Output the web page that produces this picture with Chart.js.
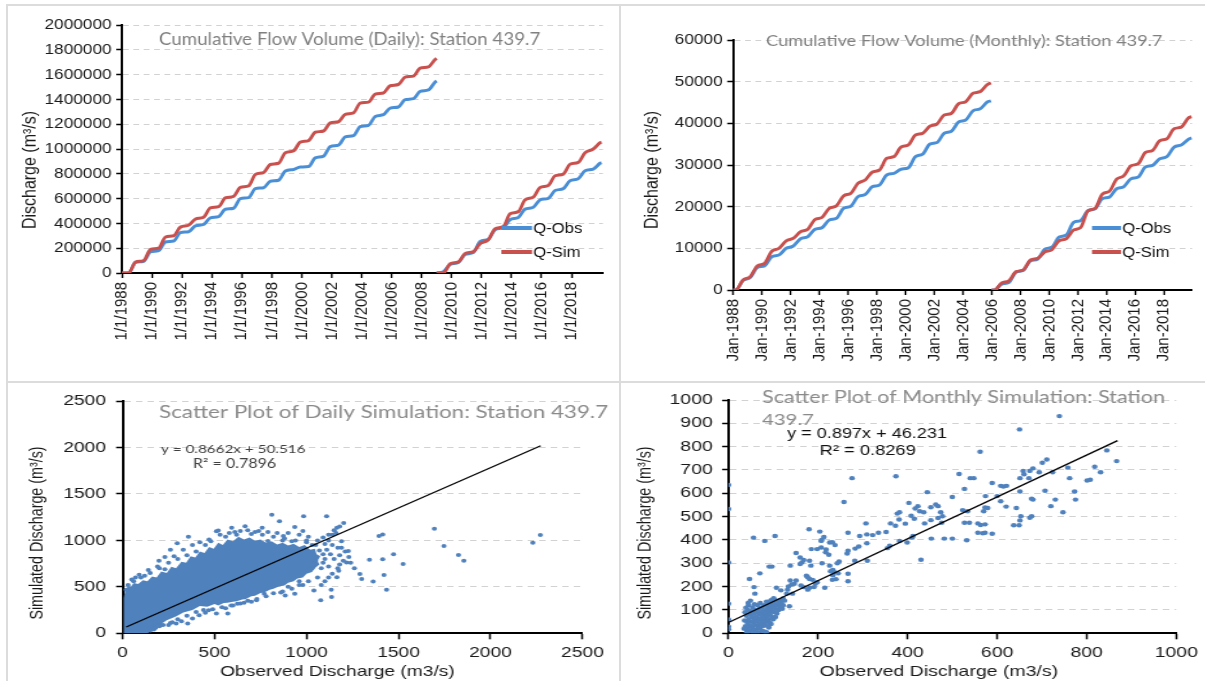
<!DOCTYPE html>
<html>
<head>
<meta charset="utf-8">
<script src="https://cdn.jsdelivr.net/npm/chart.js@4.4.1/dist/chart.umd.min.js"></script>
<style>
  html, body { margin: 0; padding: 0; background: #fff; }
  body { width: 1205px; height: 681px; position: relative; overflow: hidden; }
  .panel { position: absolute; transform-origin: 0 0; }
  .rule { position: absolute; background: #dcdcdc; }
</style>
</head>
<body>
<div class="rule" style="left:6px;top:4px;width:1199px;height:2px"></div>
<div class="rule" style="left:6px;top:4px;width:2px;height:677px"></div>
<div class="rule" style="left:619px;top:4px;width:2px;height:677px"></div>
<div class="rule" style="left:6px;top:381px;width:1199px;height:2px"></div>

<div class="panel" style="left:8px;top:6px;transform:scaleX(1.15)"><canvas id="dailyCum" width="532" height="375"></canvas></div>
<div class="panel" style="left:622px;top:6px;transform:scaleX(1.15)"><canvas id="monthlyCum" width="507" height="375"></canvas></div>
<div class="panel" style="left:8px;top:384px;transform:scaleX(1.28)"><canvas id="dailyScatter" width="478" height="297"></canvas></div>
<div class="panel" style="left:622px;top:384px;transform:scaleX(1.3)"><canvas id="monthlyScatter" width="448" height="297"></canvas></div>

<script>
// tick labels
var tickYears = [1988, 1990, 1992, 1994, 1996, 1998, 2000, 2002, 2004, 2006, 2008, 2010, 2012, 2014, 2016, 2018];

// cumulative daily volume, first record 1988-2008
var dailyYearsA = [1988.0, 1988.45, 1988.9, 1989.45, 1989.9, 1990.45, 1990.9, 1991.45, 1991.9, 1992.45, 1992.9,
  1993.45, 1993.9, 1994.45, 1994.9, 1995.45, 1995.9, 1996.45, 1996.9, 1997.45, 1997.9, 1998.45, 1998.9,
  1999.45, 1999.9, 2000.45, 2000.9, 2001.45, 2001.9, 2002.45, 2002.9, 2003.45, 2003.9, 2004.45, 2004.9,
  2005.45, 2005.9, 2006.45, 2006.9, 2007.45, 2007.9, 2008.45, 2008.9, 2009.0];
var dailyObsA = [0, 0, 85000, 95000, 170000, 180000, 250000, 258000, 325000, 333000, 380000,
  392000, 445000, 455000, 514000, 522000, 600000, 608000, 680000, 688000, 740000, 748000, 822000,
  835000, 855000, 858000, 928000, 942000, 1020000, 1031000, 1098000, 1108000, 1180000, 1191000, 1262000,
  1277000, 1330000, 1339000, 1398000, 1406000, 1464000, 1476000, 1540000, 1548000];
var dailySimA = [0, 0, 88000, 100000, 190000, 200000, 290000, 300000, 370000, 385000, 435000,
  450000, 525000, 535000, 605000, 618000, 690000, 702000, 795000, 810000, 875000, 885000, 970000,
  985000, 1055000, 1068000, 1135000, 1145000, 1210000, 1220000, 1280000, 1292000, 1370000, 1378000, 1443000,
  1452000, 1510000, 1520000, 1580000, 1588000, 1652000, 1662000, 1722000, 1730000];

// cumulative daily volume, second record 2009-2019
var dailyYearsB = [2009.0, 2009.45, 2009.9, 2010.45, 2010.9, 2011.45, 2011.9, 2012.45, 2012.9, 2013.45, 2013.9,
  2014.45, 2014.9, 2015.45, 2015.9, 2016.45, 2016.9, 2017.45, 2017.9, 2018.45, 2018.9, 2019.45, 2019.9, 2020.0];
var dailyObsB = [0, 10000, 70000, 85000, 150000, 165000, 255000, 272000, 350000, 365000, 430000,
  448000, 515000, 530000, 590000, 602000, 665000, 680000, 744000, 760000, 824000, 838000, 885000, 890000];
var dailySimB = [0, 0, 75000, 90000, 157000, 172000, 237000, 268000, 357000, 375000, 477000,
  495000, 590000, 612000, 690000, 706000, 784000, 798000, 877000, 892000, 970000, 1000000, 1050000, 1055000];

// cumulative monthly volume, 1988-2005
var monthlyYearsA = [1988.0, 1988.2, 1988.7, 1989.2, 1989.7, 1990.2, 1990.7, 1991.2, 1991.7, 1992.2, 1992.7,
  1993.2, 1993.7, 1994.2, 1994.7, 1995.2, 1995.7, 1996.2, 1996.7, 1997.2, 1997.7, 1998.2, 1998.7,
  1999.2, 1999.7, 2000.2, 2000.7, 2001.2, 2001.7, 2002.2, 2002.7, 2003.2, 2003.7, 2004.2, 2004.7,
  2005.2, 2005.7, 2005.95];
var monthlyObsA = [0, 0, 2300, 3000, 5400, 5800, 8000, 8400, 10000, 10560, 12300,
  12800, 14560, 14960, 16800, 17200, 19600, 20100, 22400, 22900, 24800, 25200, 27600,
  28000, 29000, 29300, 32000, 32600, 35000, 35400, 37600, 38100, 40300, 40800, 43000,
  43500, 45100, 45400];
var monthlySimA = [0, 0, 2400, 3200, 5800, 6400, 9300, 10000, 11800, 12400, 14000,
  14560, 16900, 17440, 19600, 20200, 22600, 23200, 25600, 26400, 28300, 28800, 31600,
  32000, 34300, 34800, 37200, 37600, 39300, 39840, 42000, 42400, 44700, 45200, 47200,
  47600, 49300, 49700];

// cumulative monthly volume, 2006-2019
var monthlyYearsB = [2006.0, 2006.2, 2006.7, 2007.2, 2007.7, 2008.2, 2008.7, 2009.2, 2009.7, 2010.2, 2010.7,
  2011.2, 2011.7, 2012.2, 2012.7, 2013.2, 2013.7, 2014.2, 2014.7, 2015.2, 2015.7, 2016.2, 2016.7,
  2017.2, 2017.7, 2018.2, 2018.7, 2019.2, 2019.7, 2019.92];
var monthlyObsB = [0, 0, 1400, 1800, 4300, 4700, 7000, 7400, 9800, 10300, 12700,
  13200, 16200, 16700, 19000, 19500, 21900, 22300, 24300, 24800, 26700, 27100, 29500,
  29900, 31500, 32000, 34300, 34800, 36200, 36500];
var monthlySimB = [0, 0, 1700, 2200, 4400, 4800, 7200, 7600, 9100, 9700, 11800,
  12300, 14400, 15000, 19000, 19600, 23000, 23700, 26600, 27400, 29800, 30300, 33000,
  33500, 35800, 36300, 38700, 39100, 41300, 41600];

// daily scatter: outline of the solid mass of overlapping points [observed, simulated]
var dailyCloud = [[8, 0], [5, 200], [8, 380], [15, 470], [30, 510], [45, 500], [60, 540], [85, 530],
  [110, 570], [135, 560], [160, 610], [185, 600], [210, 665], [240, 650], [265, 715], [290, 700],
  [320, 770], [345, 760], [370, 830], [395, 815], [420, 880], [445, 865], [470, 930], [495, 910],
  [520, 975], [545, 950], [570, 1010], [600, 990], [630, 1040], [660, 1010], [690, 1030], [720, 995],
  [750, 1010], [780, 975], [810, 990], [840, 955], [870, 975], [900, 945], [930, 965], [960, 930],
  [990, 950], [1020, 900], [1045, 910], [1055, 850], [1075, 830], [1060, 780], [1070, 740], [1045, 700],
  [1030, 660], [1000, 640], [980, 600], [950, 590], [930, 560], [900, 545], [880, 515], [850, 505],
  [820, 480], [800, 470], [770, 440], [750, 435], [720, 405], [700, 400], [670, 370], [650, 365],
  [620, 345], [600, 340], [570, 330], [550, 325], [520, 300], [500, 315], [460, 285], [420, 295],
  [380, 250], [330, 225], [290, 180], [240, 140], [210, 100], [180, 70], [160, 40], [150, 25], [138, 0]];
// daily scatter: single points around the mass
var dailyPoints = [[811, 1277], [984, 1259], [1109, 1259], [1202, 1188], [1165, 1135], [936, 1145], [853, 1206],
  [759, 1135], [666, 1152], [510, 1099], [358, 1039], [297, 968], [198, 780], [1394, 1046], [1414, 1064],
  [1695, 1124], [1747, 940], [1826, 844], [1855, 780], [2230, 975], [2271, 1057], [1473, 851], [1525, 745],
  [1342, 791], [1414, 798], [1421, 628], [1290, 638], [1362, 557], [1435, 468], [1300, 585], [1134, 468],
  [1077, 355], [1136, 390], [1175, 674], [1217, 762], [1227, 887], [1165, 603], [1040, 461], [936, 426],
  [884, 408], [770, 426], [728, 355], [624, 319], [572, 213], [510, 213], [468, 248], [416, 195], [354, 106],
  [291, 106], [250, 89], [208, 89], [166, 71], [156, 53], [520, 1106], [593, 1135], [874, 1046], [790, 993],
  [1150, 1110], [1160, 1080], [1140, 1060], [1120, 1000], [1100, 960], [1180, 840], [1200, 780], [1240, 760],
  [1260, 700], [1180, 740], [1120, 720], [1100, 800], [1090, 760], [1150, 800], [1050, 780], [1080, 700],
  [1030, 700], [960, 560], [900, 500], [980, 520], [860, 440], [820, 430], [700, 340], [660, 330], [560, 270],
  [600, 300], [450, 220], [380, 160], [320, 130], [260, 110], [220, 90], [180, 60], [150, 30], [400, 880],
  [350, 840], [300, 800], [250, 760], [200, 700], [150, 650], [100, 600], [60, 560], [450, 950], [480, 990],
  [560, 1040], [620, 1060], [700, 1070], [760, 1060], [820, 1040], [880, 1020], [940, 1000], [1000, 980],
  [1050, 950], [260, 900], [230, 820], [120, 620], [30, 520], [20, 470], [640, 1100], [720, 1090],
  [900, 1080], [980, 1100], [330, 900], [380, 950], [420, 980], [470, 1010], [530, 1060], [580, 1080],
  [610, 1090], [680, 1110], [740, 1100], [790, 1090], [840, 1080], [960, 1060], [1010, 1040], [1060, 1000],
  [1090, 1030], [1120, 1060], [1180, 1150], [1190, 920], [1210, 880], [1230, 820], [1170, 700], [1140, 640],
  [1120, 600], [1100, 560], [1080, 520], [1060, 600], [1010, 560], [960, 520], [920, 480], [870, 450],
  [780, 400], [730, 370], [680, 350], [640, 320], [590, 300], [540, 280], [490, 260], [440, 250], [400, 230],
  [350, 190], [300, 150], [270, 120], [200, 75], [170, 40], [280, 830], [190, 720], [140, 680], [90, 630],
  [50, 580], [70, 600], [230, 690], [870, 1000], [920, 990], [1000, 1000], [1030, 950], [1070, 890],
  [1090, 850], [1110, 900], [1130, 850], [1140, 950], [1170, 920], [1190, 990]];
var dailyTrend = [[20, 68], [2273, 2019]];

// monthly scatter points [observed, simulated]
var monthlyPoints = [[739, 931], [650, 874], [562, 778], [845, 784], [867, 738], [711, 745], [701, 731], [680, 707],
  [673, 696], [658, 696], [660, 682], [651, 665], [671, 665], [724, 690], [758, 710], [818, 714], [831, 690],
  [762, 665], [801, 655], [808, 658], [694, 690], [515, 683], [540, 665], [548, 665], [374, 673], [276, 665],
  [589, 644], [608, 632], [614, 629], [621, 632], [527, 619], [444, 605], [773, 608], [707, 611], [651, 608],
  [600, 588], [574, 588], [500, 584], [258, 563], [403, 559], [463, 552], [468, 545], [423, 545], [427, 523],
  [417, 535], [573, 539], [579, 537], [608, 566], [620, 543], [643, 537], [677, 577], [680, 573], [730, 573],
  [775, 573], [720, 545], [747, 519], [653, 502], [677, 502], [651, 484], [637, 463], [649, 463], [673, 495],
  [570, 523], [534, 523], [523, 528], [474, 519], [436, 519], [478, 502], [452, 540], [382, 519], [377, 513],
  [415, 491], [408, 504], [373, 461], [362, 471], [381, 488], [395, 470], [438, 471], [452, 485], [468, 494],
  [476, 474], [453, 406], [482, 406], [500, 406], [527, 474], [538, 474], [557, 471], [563, 464], [568, 429],
  [573, 431], [589, 427], [532, 399], [557, 431], [573, 467], [412, 417], [352, 434], [335, 431], [307, 471],
  [309, 424], [322, 421], [293, 417], [267, 431], [208, 400], [213, 413], [180, 446], [204, 436], [207, 396],
  [226, 389], [232, 390], [238, 378], [218, 359], [217, 347], [224, 337], [207, 368], [198, 361], [185, 361],
  [209, 300], [265, 342], [267, 354], [283, 363], [291, 372], [309, 386], [310, 311], [282, 311], [247, 308],
  [243, 300], [226, 290], [233, 272], [228, 266], [237, 262], [232, 229], [240, 232], [233, 249], [245, 257],
  [267, 223], [215, 195], [267, 255], [151, 344], [160, 325], [164, 304], [168, 314], [181, 311], [184, 290],
  [160, 297], [174, 247], [177, 240], [181, 233], [188, 229], [198, 219], [194, 212], [191, 198], [181, 195],
  [177, 187], [168, 198], [162, 205], [151, 226], [147, 212], [138, 226], [141, 209], [134, 201], [132, 187],
  [122, 149], [117, 137], [136, 116], [143, 170], [138, 290], [130, 170], [114, 141], [91, 286], [97, 286],
  [97, 144], [107, 195], [117, 184], [56, 410], [81, 396], [104, 417], [70, 257], [47, 233], [57, 198],
  [59, 170], [0, 636], [0, 533], [0, 304], [0, 127], [0, 59], [0, 28], [0, 17], [430, 315], [355, 365],
  [360, 375], [382, 396], [399, 389], [410, 410],
  [35, 20], [38, 30], [40, 15], [42, 45], [44, 25], [45, 60], [46, 35], [48, 80], [48, 12], [50, 50], [50, 95],
  [52, 30], [53, 70], [54, 110], [55, 20], [56, 45], [57, 85], [58, 60], [58, 125], [60, 35], [60, 100],
  [61, 15], [62, 70], [63, 50], [64, 90], [65, 120], [66, 30], [67, 60], [68, 80], [69, 105], [70, 40],
  [70, 20], [71, 130], [72, 65], [73, 90], [74, 50], [75, 110], [76, 30], [77, 75], [78, 95], [79, 55],
  [80, 120], [81, 40], [82, 85], [83, 65], [84, 100], [85, 135], [86, 50], [87, 75], [88, 110], [89, 90],
  [90, 60], [91, 125], [92, 100], [93, 80], [94, 140], [95, 115], [96, 95], [97, 70], [98, 130], [100, 110],
  [101, 150], [102, 90], [104, 125], [105, 105], [107, 140], [108, 85], [110, 120], [112, 100], [113, 135],
  [115, 115], [118, 130], [120, 105], [122, 120], [125, 140], [40, 75], [43, 100], [45, 120], [47, 10],
  [49, 140], [36, 55], [37, 90], [39, 110], [41, 5], [44, 130], [80, 8], [85, 5], [75, 10], [65, 5], [55, 5],
  [90, 25], [95, 40], [100, 60], [105, 70], [88, 30], [93, 45]];
var monthlyTrend = [[0, 46], [869, 826]];

var ARIAL = '"Liberation Sans", Arial, sans-serif';
var CALIBRI = 'Lato, "Open Sans", sans-serif';
var OBS_COLOR = '#4a8fd6';
var SIM_COLOR = '#c8504d';
var DOT_COLOR = '#4f81bd';

Chart.defaults.font.family = ARIAL;
Chart.defaults.color = '#1a1a1a';
Chart.defaults.animation = false;

// text, titles and legend keys drawn at fixed spots on each panel
var panelText = {
  id: 'panelText',
  afterDatasetsDraw: function(chart, args, opts) {
    var ctx = chart.ctx;
    ctx.save();
    (opts.keys || []).forEach(function(k) {
      var ds = chart.data.datasets[k.dataset];
      ctx.strokeStyle = ds.borderColor;
      ctx.lineWidth = 4;
      ctx.beginPath();
      ctx.moveTo(k.x1, k.y);
      ctx.lineTo(k.x2, k.y);
      ctx.stroke();
      ctx.fillStyle = '#111';
      ctx.font = '14.5px ' + ARIAL;
      ctx.textAlign = 'left';
      ctx.textBaseline = 'middle';
      ctx.fillText(ds.label, k.x2 + 1, k.y + 1);
    });
    (opts.items || []).forEach(function(t) {
      var size = t.size;
      ctx.font = size + 'px ' + t.family;
      if (t.fit) {
        size = size * t.fit / ctx.measureText(t.text).width;
        ctx.font = size.toFixed(2) + 'px ' + t.family;
      }
      ctx.save();
      ctx.translate(t.x, t.y);
      if (t.rotate) ctx.rotate(t.rotate * Math.PI / 180);
      ctx.fillStyle = t.color;
      ctx.textAlign = t.align || 'left';
      ctx.textBaseline = 'middle';
      ctx.fillText(t.text, 0, 0);
      ctx.restore();
    });
    ctx.restore();
  }
};

function toPoints(xs, ys) {
  return xs.map(function(x, i) { return { x: x, y: ys[i] }; });
}
function pairs(list) {
  return list.map(function(p) { return { x: p[0], y: p[1] }; });
}

function valueAxis(max, step, width, size, tickPad, tickLen) {
  return {
    min: 0, max: max,
    afterFit: function(s) { s.width = width; },
    ticks: { stepSize: step, font: { size: size }, padding: tickPad, color: '#1a1a1a',
      callback: function(v) { return String(v); } },
    grid: {
      color: function(c) { return c.tick && c.tick.value === 0 ? 'rgba(0,0,0,0)' : '#d2d2d2'; },
      lineWidth: 1, tickColor: '#000', tickLength: tickLen, tickWidth: 1.5
    },
    border: { color: '#000', width: 2, dash: [5, 4] }
  };
}

function yearAxis(max, height, prefix) {
  return {
    type: 'linear', min: 1988, max: max,
    afterFit: function(s) { s.height = height; },
    afterBuildTicks: function(s) { s.ticks = tickYears.map(function(v) { return { value: v }; }); },
    ticks: { autoSkip: false, minRotation: 90, maxRotation: 90, padding: 4, font: { size: 15 }, color: '#1a1a1a',
      callback: function(v) { return prefix + v; } },
    grid: { drawOnChartArea: false, tickColor: '#000', tickLength: 5, tickWidth: 1.5 },
    border: { color: '#000', width: 2 }
  };
}

function cumulativeChart(id, cfg) {
  var obs = toPoints(cfg.xa, cfg.obsA).concat([{ x: cfg.xb[0], y: null }], toPoints(cfg.xb, cfg.obsB));
  var sim = toPoints(cfg.xa, cfg.simA).concat([{ x: cfg.xb[0], y: null }], toPoints(cfg.xb, cfg.simB));
  var line = { borderWidth: 3, pointRadius: 0, cubicInterpolationMode: 'monotone', spanGaps: false, fill: false };
  new Chart(document.getElementById(id), {
    type: 'line',
    data: {
      datasets: [
        Object.assign({ label: 'Q-Obs', data: obs, borderColor: OBS_COLOR, order: 1 }, line),
        Object.assign({ label: 'Q-Sim', data: sim, borderColor: SIM_COLOR, order: 0 }, line)
      ]
    },
    options: {
      responsive: false,
      layout: { padding: cfg.padding },
      plugins: { legend: { display: false }, tooltip: { enabled: false }, panelText: cfg.text },
      scales: { x: cfg.x, y: cfg.y }
    },
    plugins: [panelText]
  });
}

cumulativeChart('dailyCum', {
  xa: dailyYearsA, obsA: dailyObsA, simA: dailySimA,
  xb: dailyYearsB, obsB: dailyObsB, simB: dailySimB,
  padding: { left: 0, right: 14.6, top: 19, bottom: 0 },
  x: yearAxis(2020.1, 108, '1/1/'),
  y: valueAxis(2000000, 200000, 99.1, 15, 4, 5),
  text: {
    keys: [{ dataset: 0, x1: 429, x2: 455.7, y: 222 }, { dataset: 1, x1: 429, x2: 455.7, y: 246 }],
    items: [
      { text: 'Cumulative Flow Volume (Daily): Station 439.7', x: 131.3, y: 34, size: 17, fit: 332, family: CALIBRI, color: '#808080' },
      { text: 'Discharge (m\u00b3/s)', x: 19.1, y: 164, size: 16, family: ARIAL, color: '#1a1a1a', align: 'center', rotate: -90 }
    ]
  }
});

cumulativeChart('monthlyCum', {
  xa: monthlyYearsA, obsA: monthlyObsA, simA: monthlySimA,
  xb: monthlyYearsB, obsB: monthlyObsB, simB: monthlySimB,
  padding: { left: 0, right: 11.3, top: 34, bottom: 0 },
  x: yearAxis(2019.95, 91, 'Jan-'),
  y: valueAxis(60000, 10000, 96.5, 15, 4, 5),
  text: {
    keys: [{ dataset: 0, x1: 408.7, x2: 433.9, y: 222 }, { dataset: 1, x1: 408.7, x2: 433.9, y: 246 }],
    items: [
      { text: 'Cumulative Flow Volume (Monthly): Station 439.7', x: 125.2, y: 34.7, size: 17, fit: 345, family: CALIBRI, color: '#808080' },
      { text: 'Discharge (m\u00b3/s)', x: 26.1, y: 164, size: 16, family: ARIAL, color: '#1a1a1a', align: 'center', rotate: -90 }
    ]
  }
});

function scatterChart(id, cfg) {
  var datasets = [
    { type: 'line', label: 'Linear', data: pairs(cfg.trend), borderColor: '#000', borderWidth: 1.3,
      pointRadius: 0, fill: false, order: 0 },
    { type: 'scatter', label: 'Simulated', data: pairs(cfg.points), backgroundColor: DOT_COLOR,
      borderWidth: 0, pointRadius: cfg.radius, order: 1 }
  ];
  if (cfg.cloud) {
    datasets.push({ type: 'line', label: 'cloud', data: pairs(cfg.cloud), borderWidth: 0, borderColor: DOT_COLOR,
      backgroundColor: DOT_COLOR, pointRadius: 0, fill: 'shape', tension: 0, order: 2 });
  }
  new Chart(document.getElementById(id), {
    type: 'scatter',
    data: { datasets: datasets },
    options: {
      responsive: false,
      layout: { padding: cfg.padding },
      plugins: { legend: { display: false }, tooltip: { enabled: false }, panelText: cfg.text },
      scales: {
        x: {
          type: 'linear', min: 0, max: cfg.xMax,
          afterFit: function(s) { s.height = 47.7; },
          ticks: { stepSize: cfg.xStep, font: { size: 15 }, padding: 5, color: '#1a1a1a',
            callback: function(v) { return String(v); } },
          grid: { drawOnChartArea: false, tickColor: '#000', tickLength: 6, tickWidth: 1.5 },
          border: { color: '#000', width: 2 }
        },
        y: valueAxis(cfg.yMax, cfg.yStep, cfg.yWidth, 15, cfg.yPad, 5)
      }
    },
    plugins: [panelText]
  });
}

scatterChart('dailyScatter', {
  points: dailyPoints, cloud: dailyCloud, trend: dailyTrend, radius: 2,
  xMax: 2500, xStep: 500, yMax: 2500, yStep: 500, yWidth: 89.5, yPad: 8,
  padding: { left: 0, right: 29.2, top: 14.3, bottom: 0 },
  text: {
    items: [
      { text: 'Scatter Plot of Daily Simulation: Station 439.7', x: 118, y: 28, size: 17, fit: 351, family: CALIBRI, color: '#8a8a8a' },
      { text: 'y = 0.8662x + 50.516', x: 119.5, y: 65, size: 12, fit: 113, family: CALIBRI, color: '#404040' },
      { text: 'R\u00b2 = 0.7896', x: 144.5, y: 80, size: 12, fit: 65, family: CALIBRI, color: '#404040' },
      { text: 'Simulated Discharge (m\u00b3/s)', x: 23.4, y: 149, size: 14.3, family: ARIAL, color: '#1a1a1a', align: 'center', rotate: -90 },
      { text: 'Observed Discharge (m3/s)', x: 257.4, y: 288, size: 15, family: ARIAL, color: '#1a1a1a', align: 'center' }
    ]
  }
});

scatterChart('monthlyScatter', {
  points: monthlyPoints, cloud: null, trend: monthlyTrend, radius: 2.2,
  xMax: 1000, xStep: 200, yMax: 1000, yStep: 100, yWidth: 81.9, yPad: 7,
  padding: { left: 0, right: 18.8, top: 13.7, bottom: 0 },
  text: {
    items: [
      { text: 'Scatter Plot of Monthly Simulation: Station', x: 107.7, y: 14, size: 17, fit: 310, family: CALIBRI, color: '#8a8a8a' },
      { text: '439.7', x: 107.7, y: 36, size: 17, fit: 40, family: CALIBRI, color: '#8a8a8a' },
      { text: 'y = 0.897x + 46.231', x: 127, y: 50, size: 14, fit: 123, family: ARIAL, color: '#111' },
      { text: 'R\u00b2 = 0.8269', x: 152, y: 67, size: 14, fit: 74, family: ARIAL, color: '#111' },
      { text: 'Simulated Discharge (m\u00b3/s)', x: 18.5, y: 149, size: 14.3, family: ARIAL, color: '#1a1a1a', align: 'center', rotate: -90 },
      { text: 'Observed Discharge (m3/s)', x: 243.8, y: 288, size: 15, family: ARIAL, color: '#1a1a1a', align: 'center' }
    ]
  }
});
</script>
</body>
</html>
